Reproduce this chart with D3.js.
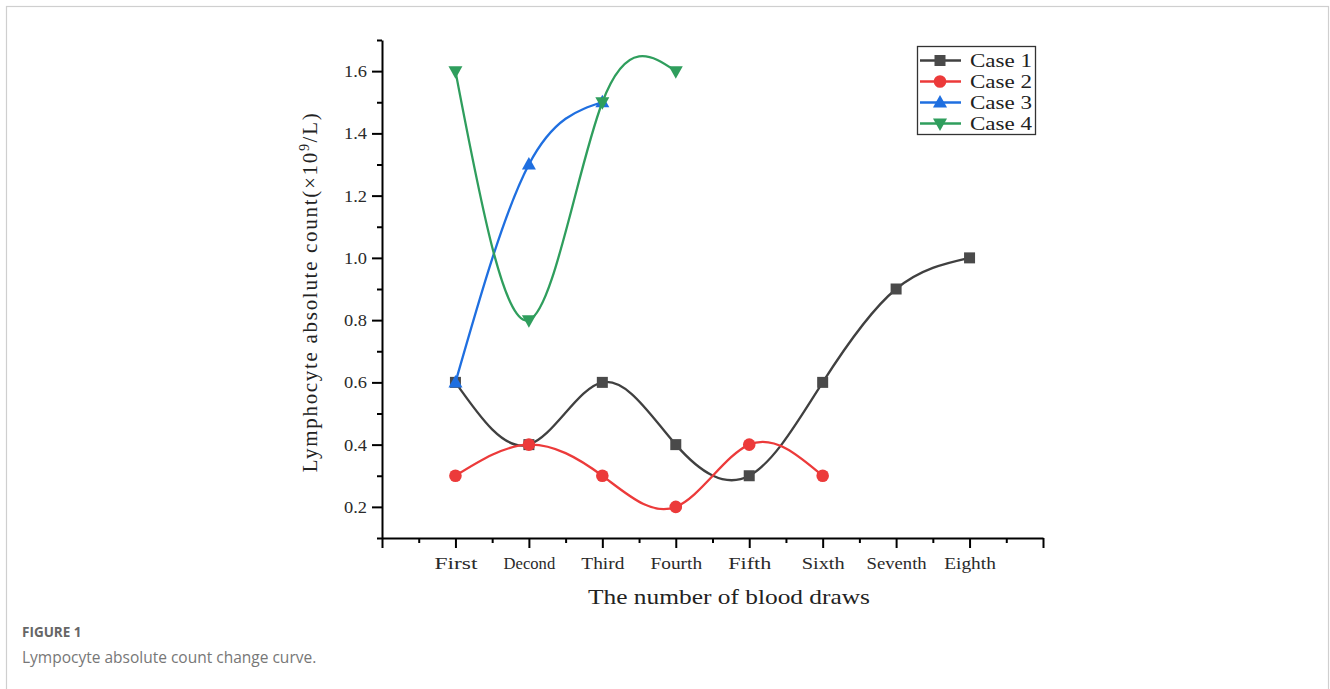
<!DOCTYPE html>
<html>
<head>
<meta charset="utf-8">
<script src="https://cdn.jsdelivr.net/npm/d3@7"></script>
<style>
  html, body { margin: 0; padding: 0; background: #fff; }
  svg { display: block; }
</style>
</head>
<body>
<svg id="chart" width="1330" height="689"></svg>
<script>
// ---- data ----
const categories = ["First", "Decond", "Third", "Fourth", "Fifth", "Sixth", "Seventh", "Eighth"];
const case1 = [0.6, 0.4, 0.6, 0.4, 0.3, 0.6, 0.9, 1.0];
const case2 = [0.3, 0.4, 0.3, 0.2, 0.4, 0.3];
const case3 = [0.6, 1.3, 1.5];
const case4 = [1.6, 0.8, 1.5, 1.6];
const seriesNames = ["Case 1", "Case 2", "Case 3", "Case 4"];
const yTickValues = [0.2, 0.4, 0.6, 0.8, 1.0, 1.2, 1.4, 1.6];
const yMinorValues = [0.1, 0.3, 0.5, 0.7, 0.9, 1.1, 1.3, 1.5, 1.7];
const xTitle = "The number of blood draws";
const captionLabel = "FIGURE 1";
const captionText = "Lympocyte absolute count change curve.";

// ---- styles ----
const colors = ["#404040", "#ec3a3a", "#1f6fe0", "#2f9e5d"];
const markerColors = ["#4a4a4a", "#ec3a3a", "#1f6fe0", "#2f9e5d"];
const serif = "'Liberation Serif', 'DejaVu Serif', serif";

const svg = d3.select("#chart");

// outer frame
svg.append("rect")
  .attr("x", 6.5).attr("y", 6.5)
  .attr("width", 1322).attr("height", 720)
  .attr("fill", "none").attr("stroke", "#cfcfcf").attr("stroke-width", 1.2);

const x = d3.scaleLinear().domain([0, 9]).range([382, 1043]);
const y = d3.scaleLinear().domain([0.1, 1.7]).range([538, 40]);

// minor x ticks
svg.append("g").attr("transform", `translate(0,${y(0.1)})`)
  .call(d3.axisBottom(x).tickValues(d3.range(0.5, 9, 1)).tickSize(5).tickSizeOuter(0).tickFormat(""))
  .call(g => g.select(".domain").remove())
  .call(g => g.selectAll("line").attr("stroke", "#000").attr("stroke-width", 2));

// major x axis
const xAxisG = svg.append("g").attr("transform", `translate(0,${y(0.1)})`)
  .call(d3.axisBottom(x).tickValues(d3.range(0, 10, 1)).tickSize(10).tickSizeOuter(0)
    .tickFormat(d => (d >= 1 && d <= categories.length) ? categories[d - 1] : ""));
xAxisG.select(".domain").attr("stroke", "#000").attr("stroke-width", 2);
xAxisG.selectAll("line").attr("stroke", "#000").attr("stroke-width", 2);
xAxisG.selectAll("text")
  .attr("y", 31).attr("dy", 0)
  .attr("fill", "#2a2a2a")
  .style("font-family", serif).style("font-size", "17px")
  .each(function(d) {
    const t = d3.select(this).text();
    if (t) d3.select(this).attr("textLength", t.length * 8.6).attr("lengthAdjust", "spacingAndGlyphs");
  });

// minor y ticks
svg.append("g").attr("transform", `translate(${x(0)},0)`)
  .call(d3.axisLeft(y).tickValues(yMinorValues).tickSize(5).tickSizeOuter(0).tickFormat(""))
  .call(g => g.select(".domain").remove())
  .call(g => g.selectAll("line").attr("stroke", "#000").attr("stroke-width", 2));

// major y axis
const yAxisG = svg.append("g").attr("transform", `translate(${x(0)},0)`)
  .call(d3.axisLeft(y).tickValues(yTickValues).tickSize(10).tickSizeOuter(0).tickFormat(d3.format(".1f")));
yAxisG.select(".domain").attr("stroke", "#000").attr("stroke-width", 2);
yAxisG.selectAll("line").attr("stroke", "#000").attr("stroke-width", 2);
yAxisG.selectAll("text")
  .attr("x", -15).attr("dy", "0.35em")
  .attr("fill", "#2a2a2a")
  .style("font-family", serif).style("font-size", "16px")
  .attr("textLength", 23).attr("lengthAdjust", "spacingAndGlyphs");

// axis titles
svg.append("text")
  .attr("x", 729).attr("y", 604)
  .attr("text-anchor", "middle")
  .attr("fill", "#222")
  .style("font-family", serif).style("font-size", "22px")
  .attr("textLength", 282).attr("lengthAdjust", "spacingAndGlyphs")
  .text(xTitle);

const yt = svg.append("text")
  .attr("transform", "translate(317,292) rotate(-90)")
  .attr("text-anchor", "middle")
  .attr("fill", "#222")
  .style("font-family", serif).style("font-size", "21px")
  .style("letter-spacing", "1.7px");
yt.append("tspan").text("Lymphocyte absolute count(×10");
yt.append("tspan").attr("dy", -8).style("font-size", "14px").text("9");
yt.append("tspan").attr("dy", 8).text("/L)");

// series
const allSeries = [case1, case2, case3, case4];
const line = d3.line()
  .x((d, i) => x(i + 1))
  .y(d => y(d))
  .curve(d3.curveNatural);

function drawMarker(g, k, cx, cy) {
  if (k === 0) {
    g.append("rect").attr("x", cx - 5.5).attr("y", cy - 5.5).attr("width", 11).attr("height", 11)
      .attr("fill", markerColors[k]);
  } else if (k === 1) {
    g.append("circle").attr("cx", cx).attr("cy", cy).attr("r", 6.3).attr("fill", markerColors[k]);
  } else if (k === 2) {
    g.append("path").attr("d", `M${cx},${cy - 7.5}L${cx + 7},${cy + 5}L${cx - 7},${cy + 5}Z`)
      .attr("fill", markerColors[k]);
  } else {
    g.append("path").attr("d", `M${cx},${cy + 7.5}L${cx + 7},${cy - 5}L${cx - 7},${cy - 5}Z`)
      .attr("fill", markerColors[k]);
  }
}

allSeries.forEach((vals, k) => {
  const g = svg.append("g");
  g.append("path").datum(vals)
    .attr("d", line)
    .attr("fill", "none")
    .attr("stroke", colors[k])
    .attr("stroke-width", 2.3);
  vals.forEach((v, i) => drawMarker(g, k, x(i + 1), y(v)));
});

// legend
const lg = svg.append("g");
lg.append("rect").attr("x", 917.5).attr("y", 46.5).attr("width", 118).attr("height", 88)
  .attr("fill", "#fff").attr("stroke", "#333").attr("stroke-width", 1.3);
seriesNames.forEach((name, k) => {
  const ry = 60.5 + k * 21;
  lg.append("line").attr("x1", 920).attr("x2", 961).attr("y1", ry).attr("y2", ry)
    .attr("stroke", colors[k]).attr("stroke-width", 2.3);
  drawMarker(lg, k, 940, ry);
  lg.append("text").attr("x", 970).attr("y", ry).attr("dy", "0.35em")
    .attr("fill", "#222")
    .style("font-family", serif).style("font-size", "19px")
    .attr("textLength", 62).attr("lengthAdjust", "spacingAndGlyphs")
    .text(name);
});

// caption
svg.append("text").attr("x", 22).attr("y", 637)
  .attr("fill", "#666")
  .style("font-family", "'Open Sans', 'Noto Sans', sans-serif").style("font-size", "13.5px").style("font-weight", "700")
  .text(captionLabel);
svg.append("text").attr("x", 22).attr("y", 663)
  .attr("fill", "#777")
  .style("font-family", "'Open Sans', 'Noto Sans', sans-serif").style("font-size", "15.5px")
  .text(captionText);
</script>
</body>
</html>
